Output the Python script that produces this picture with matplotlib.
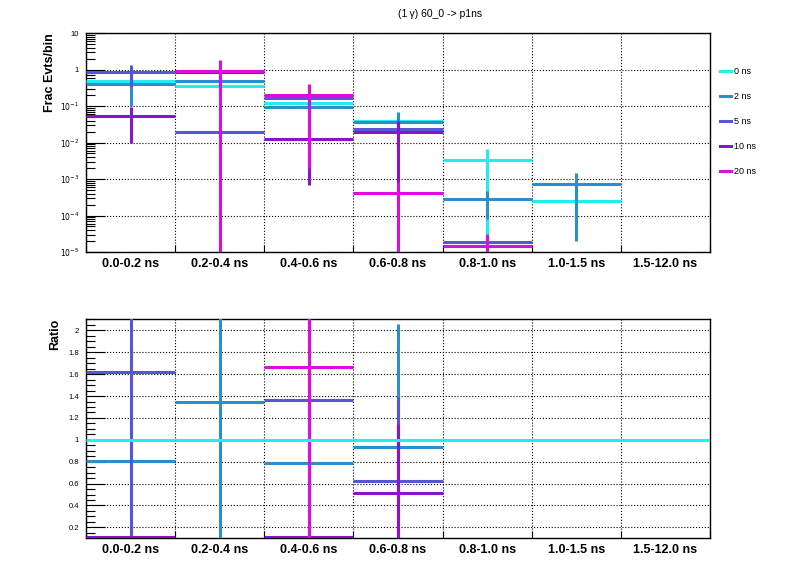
import numpy as np
import matplotlib
matplotlib.use('Agg')
import matplotlib.pyplot as plt
from matplotlib.lines import Line2D
from matplotlib.ticker import FixedLocator, FuncFormatter, MultipleLocator, LogLocator, NullFormatter

plt.rcParams['font.family'] = ['Liberation Sans', 'DejaVu Sans']

nan = np.nan
bins = ['0.0-0.2 ns', '0.2-0.4 ns', '0.4-0.6 ns', '0.6-0.8 ns', '0.8-1.0 ns', '1.0-1.5 ns', '1.5-12.0 ns']
labels = ['0 ns', '2 ns', '5 ns', '10 ns', '20 ns']
colors = ['#22eeee', '#2b8fcc', '#5757d6', '#8a14cc', '#dd0ddd']

# fraction of events per bin
frac_0ns = [0.49, 0.35, 0.12, 0.039, 0.0033, 0.00025, nan]
frac_2ns = [0.40, 0.49, 0.095, 0.037, 0.00028, 0.00074, nan]
frac_5ns = [0.83, 0.019, 0.167, 0.0236, 1.9e-5, nan, nan]
frac_10ns = [0.052, 0.83, 0.0126, 0.0195, nan, nan, nan]
frac_20ns = [nan, 0.92, 0.20, 0.00042, 1.5e-5, nan, nan]

err_0ns = [0.08, 0.1, 0.03, 0.02, 0.00327, 0.0002, nan]
err_2ns = [0.3, 0.3, 0.05, 0.032, 0.0002, 0.00072, nan]
err_5ns = [0.5, 0.019, 0.1, 0.015, 1.2e-5, nan, nan]
err_10ns = [0.042, 0.5, 0.0119, 0.0187, nan, nan, nan]
err_20ns = [nan, 0.92, 0.198, 0.00041, 1.5e-5, nan, nan]

# ratio to 0 ns (points outside the range left out)
ratio_0ns = [1, 1, 1, 1, 1, 1, 1]
ratio_2ns = [0.81, 1.35, 0.786, 0.93, nan, nan, nan]
ratio_5ns = [1.62, nan, 1.362, 0.62, nan, nan, nan]
ratio_10ns = [0.108, nan, 0.108, 0.512, nan, nan, nan]
ratio_20ns = [nan, nan, 1.664, nan, nan, nan, nan]

rerr_0ns = [0, 0, 0, 0, 0, 0, 0]
rerr_2ns = [0.9, 2.0, 0.6, 1.13, nan, nan, nan]
rerr_5ns = [1.6, nan, 1.0, 0.77, nan, nan, nan]
rerr_10ns = [0, nan, 0, 0.63, nan, nan, nan]
rerr_20ns = [nan, nan, 1.9, nan, nan, nan, nan]

fracs = [frac_0ns, frac_2ns, frac_5ns, frac_10ns, frac_20ns]
errs = [err_0ns, err_2ns, err_5ns, err_10ns, err_20ns]
ratios = [ratio_0ns, ratio_2ns, ratio_5ns, ratio_10ns, ratio_20ns]
rerrs = [rerr_0ns, rerr_2ns, rerr_5ns, rerr_10ns, rerr_20ns]

nb = len(bins)
centers = np.arange(nb) + 0.5
LW = 2.2

fig = plt.figure(figsize=(7.96, 5.72), dpi=100)
ax1 = fig.add_axes([86/796, 1-252/572, 624/796, 219/572])
ax2 = fig.add_axes([86/796, 1-538/572, 624/796, 219/572])


def draw(ax, vals, errs, color, logy, z):
    v = np.array(vals, float)
    e = np.array(errs, float)
    m = ~np.isnan(v)
    lo = e[m].copy()
    if logy:
        lo = np.minimum(lo, v[m] * 0.99999)
    ax.errorbar(centers[m], v[m], xerr=0.5, yerr=[lo, e[m]], fmt='none',
                ecolor=color, elinewidth=LW, capsize=0, zorder=z)


for i in range(5):
    draw(ax1, fracs[i], errs[i], colors[i], True, 3 + i)
for i in range(1, 5):
    draw(ax2, ratios[i], rerrs[i], colors[i], False, 3 + i)
draw(ax2, ratios[0], rerrs[0], colors[0], False, 9)

ax1.set_yscale('log')
ax1.set_ylim(1e-5, 10)
ax2.set_ylim(0.103, 2.104)


def logfmt(y, pos):
    if abs(y - 10) < 1e-9:
        return '10'
    if abs(y - 1) < 1e-9:
        return '1'
    return r'$10^{%d}$' % int(round(np.log10(y)))


ax1.yaxis.set_major_locator(LogLocator(base=10, numticks=20))
ax1.yaxis.set_minor_locator(LogLocator(base=10, subs=np.arange(2, 10), numticks=20))
ax1.yaxis.set_major_formatter(FuncFormatter(logfmt))
ax1.yaxis.set_minor_formatter(NullFormatter())

ax2.yaxis.set_major_locator(MultipleLocator(0.2))
ax2.yaxis.set_minor_locator(MultipleLocator(0.05))
ax2.yaxis.set_major_formatter(FuncFormatter(lambda y, p: '%g' % round(y, 2)))

for ax in (ax1, ax2):
    ax.set_xlim(0, nb)
    ax.xaxis.set_major_locator(FixedLocator(np.arange(nb + 1)))
    ax.xaxis.set_minor_locator(FixedLocator(centers))
    ax.set_xticklabels([''] * (nb + 1))
    ax.set_xticklabels(bins, minor=True, fontweight='bold', fontsize=9)
    ax.tick_params(axis='x', which='major', direction='in', length=5, width=0.8)
    ax.tick_params(axis='x', which='minor', length=0, pad=4)
    ax.tick_params(axis='y', which='major', direction='in', length=14, width=0.8, labelsize=5.5, pad=5)
    ax.tick_params(axis='y', which='minor', direction='in', length=6.5, width=0.8)
    ax.grid(True, which='major', color='black', linestyle=':', linewidth=0.8)
    ax.set_axisbelow(True)
    for s in ax.spines.values():
        s.set_linewidth(1.0)

fig.text(50/796, 1-33/572, 'Frac Evts/bin', rotation=90, va='top', ha='center',
         fontsize=9, fontweight='bold')
fig.text(55/796, 1-319/572, 'Ratio', rotation=90, va='top', ha='center',
         fontsize=9, fontweight='bold')
fig.text(440/796, 1-14/572, '(1\u2009\u03b3) 60_0 -> p1ns', ha='center', va='center', fontsize=7.5)

handles = [Line2D([], [], color=c, lw=LW) for c in colors]
fig.legend(handles, labels, loc='upper left', bbox_to_anchor=(720/796, 1-67.5/572),
           frameon=False, fontsize=6.5, handlelength=1.2, handletextpad=0.3,
           labelspacing=1.77, borderpad=0, borderaxespad=0)

fig.savefig('out.png', dpi=100)
